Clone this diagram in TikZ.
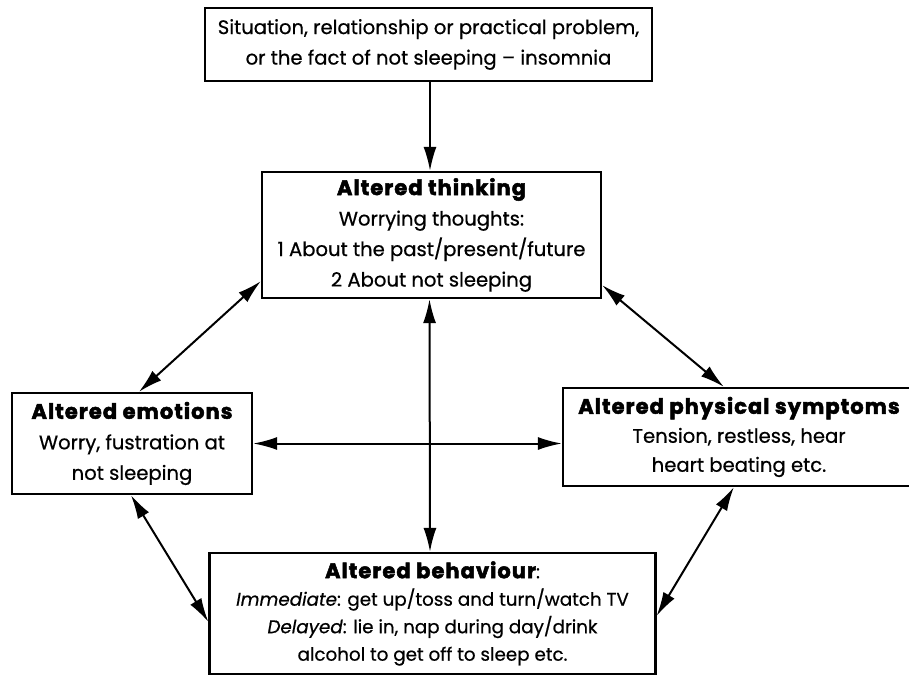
\documentclass[tikz,border=0pt]{standalone}
\usepackage{fontspec}
\setmainfont{Poppins}[FakeBold=0.6]
\newfontfamily\hdfont{Poppins}[FakeBold=2.4,LetterSpace=5]
\newcommand\hd[1]{{\hdfont\bfseries\fontsize{21}{30}\selectfont #1}}
\usetikzlibrary{arrows.meta,calc}
\begin{document}
\begin{tikzpicture}[x=1pt,y=-1pt,
  box/.style={draw=black,line width=2.2pt,align=center,inner sep=0pt,
    font=\fontsize{19.6}{30.5}\selectfont},
  conn/.style={line width=2pt,{Latex[length=24pt,width=13pt]}-{Latex[length=24pt,width=13pt]}},
  oneway/.style={line width=2pt,-{Latex[length=24pt,width=13pt]}}]
\useasboundingbox (0,0) rectangle (909,677);
\node[box,minimum width=447pt,minimum height=73pt] (top) at (428.5,44.5)
  {Situation, relationship or practical problem,\\or the fact of not sleeping -- insomnia};
\node[box,minimum width=339pt,minimum height=126pt] (think) at (431.5,235)
  {\hd{Altered thinking}\\Worrying thoughts:\\1 About the past/present/future\\2 About not sleeping};
\node[box,minimum width=240pt,minimum height=101pt] (emo) at (132,443.5)
  {\hd{Altered emotions}\\Worry, fustration at\\not sleeping};
\node[box,minimum width=352pt,minimum height=98pt,font=\fontsize{19.6}{29}\selectfont] (phys) at (739,437)
  {\hd{Altered physical symptoms}\\Tension, restless, hear\\heart beating etc.};
\node[box,minimum width=446pt,minimum height=121pt,font=\fontsize{18.3}{27.5}\selectfont] (beh) at (432.5,613.5)
  {\hd{Altered behaviour}:\\\textit{Immediate}: get up/toss and turn/watch TV\\\textit{Delayed}: lie in, nap during day/drink\\alcohol to get off to sleep etc.};
\draw[oneway] ($(top.south)+(1.5,0)$) -- ($(think.north)+(-1.5,0)$);
\draw[conn] ($(think.south west)+(0,-18)$) -- ($(emo.north west)+(128,0)$);
\draw[conn] ($(think.south east)+(0,-14)$) -- ($(phys.north west)+(162,0)$);
\draw[conn] (emo.east) -- (emo.east -| phys.west);
\draw[conn] ($(think.south)+(-2,0)$) -- ($(beh.north)+(-2.5,0)$);
\draw[conn] ($(emo.south west)+(120,0)$) -- ($(beh.north west)+(0,70)$);
\draw[conn] ($(phys.south west)+(172,0)$) -- ($(beh.north east)+(0,64)$);
\end{tikzpicture}
\end{document}
